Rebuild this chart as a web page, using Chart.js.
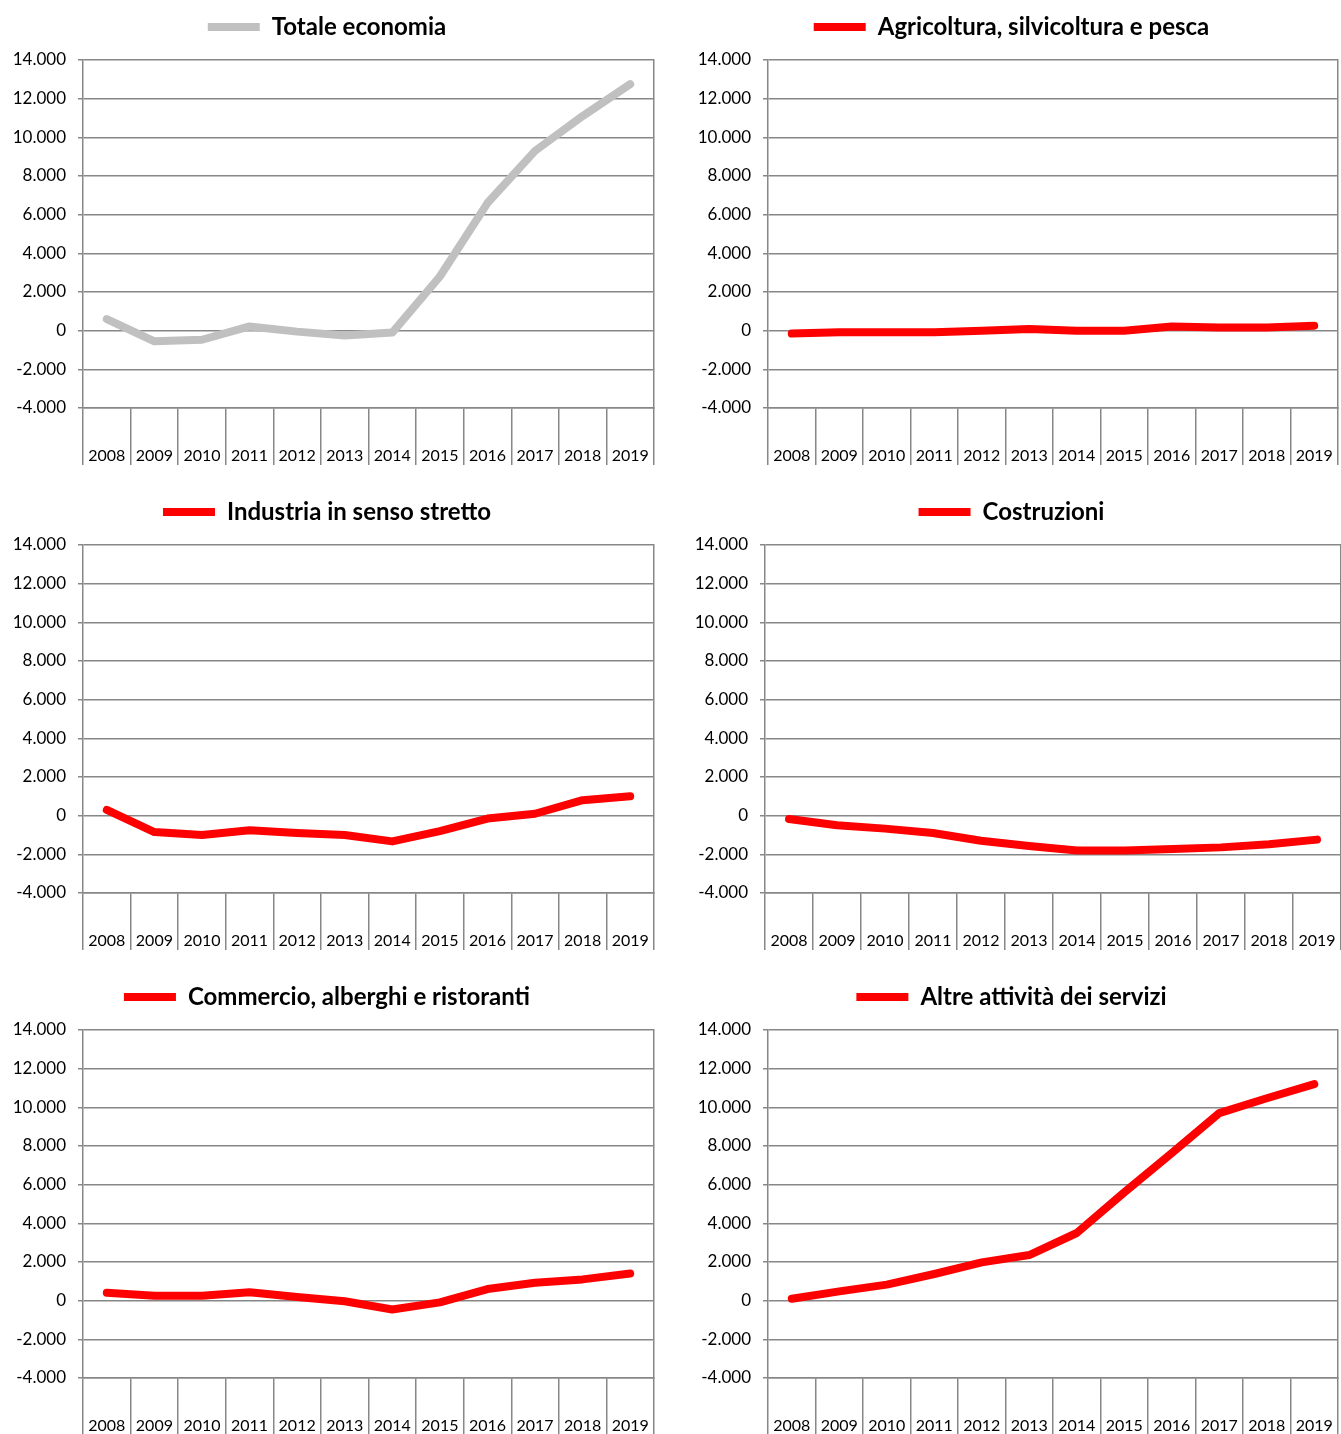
<!DOCTYPE html>
<html>
<head>
<meta charset="utf-8">
<script src="https://cdn.jsdelivr.net/npm/chart.js@4.4.1/dist/chart.umd.min.js"></script>
<style>
  html, body { margin: 0; padding: 0; background: #fff; }
  body { position: relative; width: 1341px; height: 1434px; overflow: hidden; }
  canvas { position: absolute; }
</style>
</head>
<body>
<canvas id="c0" width="670" height="485" style="left:0px;top:0px"></canvas>
<canvas id="c1" width="656" height="485" style="left:685px;top:0px"></canvas>
<canvas id="c2" width="670" height="485" style="left:0px;top:485px"></canvas>
<canvas id="c3" width="659" height="485" style="left:682px;top:485px"></canvas>
<canvas id="c4" width="670" height="485" style="left:0px;top:970px"></canvas>
<canvas id="c5" width="656" height="485" style="left:685px;top:970px"></canvas>
<script>
// Categories (years)
const years = ["2008", "2009", "2010", "2011", "2012", "2013", "2014", "2015", "2016", "2017", "2018", "2019"];

// Series values
const totaleEconomia = [600, -550, -470, 220, -50, -250, -100, 2800, 6600, 9300, 11100, 12750];
const agricoltura = [-150, -80, -80, -80, 0, 80, 0, 0, 220, 170, 170, 260];
const industria = [300, -850, -1000, -750, -900, -1000, -1330, -800, -150, 100, 800, 1000];
const costruzioni = [-170, -500, -670, -900, -1300, -1570, -1800, -1800, -1720, -1640, -1480, -1240];
const commercio = [410, 260, 260, 430, 190, -30, -460, -90, 600, 930, 1100, 1410];
const altreServizi = [100, 480, 830, 1380, 1980, 2360, 3500, 5600, 7630, 9700, 10470, 11200];

// Value axis
const yMin = -4000;
const yMax = 14000;
const yStep = 2000;

const FONT = 'Lato, "DejaVu Sans Condensed", sans-serif';
const GRID = "#878787";
const GREY_LINE = "#c0c0c0";
const RED_LINE = "#ff0000";

// italian thousands separator: 14000 -> 14.000
function fmt(v) {
  return String(v).replace(/\B(?=(\d{3})+(?!\d))/g, ".");
}

function makeChart(id, label, values, color, padRight) {
  return new Chart(document.getElementById(id), {
    type: "line",
    data: {
      labels: years,
      datasets: [{
        label: label,
        data: values,
        borderColor: color,
        backgroundColor: color,
        borderWidth: 8,
        borderCapStyle: "round",
        borderJoinStyle: "round",
        pointRadius: 0,
        pointStyle: "line",
        tension: 0
      }]
    },
    options: {
      responsive: false,
      animation: false,
      events: [],
      layout: { padding: { left: 0, right: padRight, top: 0, bottom: 0 } },
      plugins: {
        tooltip: { enabled: false },
        legend: {
          position: "top",
          labels: {
            usePointStyle: true,
            pointStyleWidth: 52,
            padding: 15,
            color: "#000",
            font: { family: FONT, size: 24, weight: "bold" }
          }
        }
      },
      scales: {
        x: {
          type: "category",
          offset: true,
          grid: { offset: true, drawOnChartArea: false, drawTicks: true, tickLength: 57, color: GRID, lineWidth: 1.5 },
          border: { color: GRID, width: 1.5 },
          ticks: { padding: -19, autoSkip: false, maxRotation: 0, color: "#000", font: { family: FONT, size: 16 } },
          afterFit: s => { s.height = 77; }
        },
        // empty strip between legend and plot
        xTop: {
          type: "category",
          position: "top",
          display: true,
          grid: { drawOnChartArea: false, drawTicks: false },
          border: { display: false },
          ticks: { display: false },
          afterFit: s => { s.height = 11; }
        },
        y: {
          min: yMin,
          max: yMax,
          ticks: { stepSize: yStep, padding: 12, color: "#000", font: { family: FONT, size: 17 }, callback: v => fmt(v) },
          grid: { color: GRID, lineWidth: 1.5, tickLength: 5 },
          border: { color: GRID, width: 1.5 },
          afterFit: s => { s.width = 83; }
        },
        // right edge of the plot frame
        y2: {
          position: "right",
          min: yMin,
          max: yMax,
          ticks: { display: false },
          grid: { drawOnChartArea: false, drawTicks: false },
          border: { color: GRID, width: 1.5 },
          afterFit: s => { s.width = 0; }
        }
      }
    }
  });
}

makeChart("c0", "Totale economia", totaleEconomia, GREY_LINE, 16);
makeChart("c1", "Agricoltura, silvicoltura e pesca", agricoltura, RED_LINE, 3);
makeChart("c2", "Industria in senso stretto", industria, RED_LINE, 16);
makeChart("c3", "Costruzioni", costruzioni, RED_LINE, 0);
makeChart("c4", "Commercio, alberghi e ristoranti", commercio, RED_LINE, 16);
makeChart("c5", "Altre attività dei servizi", altreServizi, RED_LINE, 3);
</script>
</body>
</html>
